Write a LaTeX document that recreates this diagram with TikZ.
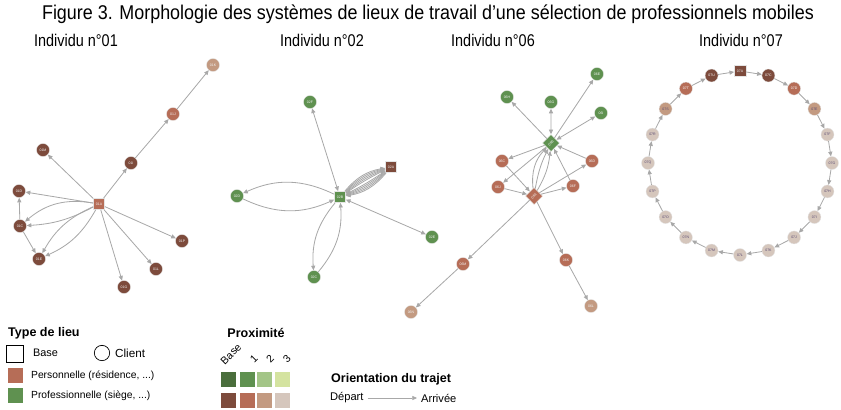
\documentclass[tikz,border=0pt]{standalone}
\usepackage{fontspec}
\setmainfont{Liberation Sans}
\newfontfamily\narrowfont[FakeStretch=0.85]{Liberation Sans}
\newfontfamily\titlefont[FakeStretch=0.9]{Liberation Sans}
\usepackage{xcolor}
\usepackage{tikz}
\usetikzlibrary{positioning,arrows.meta}

\definecolor{baseG}{HTML}{4A6E3C}
\definecolor{proG1}{HTML}{5F9150}
\definecolor{proG2}{HTML}{A3C587}
\definecolor{proG3}{HTML}{D4E3A0}
\definecolor{baseB}{HTML}{7D4B3C}
\definecolor{proB1}{HTML}{B66D57}
\definecolor{proB2}{HTML}{C39A81}
\definecolor{proB3}{HTML}{D5C6BC}
\definecolor{trajetgris}{HTML}{A8A8A8}
\definecolor{labtxt}{HTML}{5B4B73}

\begin{document}
\begin{tikzpicture}[x=0.03cm,y=-0.03cm,
    lieu/.style={circle,minimum size=0.39cm,inner sep=0pt,draw=white!80!gray,line width=0.3pt,
        font=\fontsize{3}{3}\selectfont,text=white!90!gray},
    base/.style={lieu,rectangle,minimum size=0.34cm},
    basediam/.style={lieu,rectangle,minimum size=0.36cm,rotate=45},
    trajet/.style={draw=trajetgris,line width=0.7pt,-{Triangle[length=4pt,width=3.5pt]}},
    allerretour/.style={trajet,{Triangle[length=4pt,width=3.5pt]}-{Triangle[length=4pt,width=3.5pt]}},
    titre/.style={font=\narrowfont\fontsize{14.5}{16}\selectfont},
    leg/.style={anchor=west,font=\fontsize{9}{10}\selectfont},
    legtitre/.style={anchor=west,font=\bfseries\fontsize{10.7}{12}\selectfont},
    case/.style={rectangle,minimum size=0.45cm,inner sep=0pt}]
    \useasboundingbox (0,0) rectangle (841,409);

    \node[font=\titlefont\fontsize{17}{19}\selectfont] (fig) at (428,14) {Figure 3. Morphologie des systèmes de lieux de travail d’une sélection de professionnels mobiles};
    \node[titre] (t01) at (76,40) {Individu n°01};
    \node[titre] (t02) at (322,40) {Individu n°02};
    \node[titre] (t06) at (493,40) {Individu n°06};
    \node[titre] (t07) at (741,40) {Individu n°07};

    % Individu 01
    \node[base,fill=proB1] (n01A) at (99,204) {01A};
    \node[lieu,fill=baseB] (n01M) at (43,150) {01M};
    \node[lieu,fill=baseB] (n01D) at (19,191) {01D};
    \node[lieu,fill=baseB] (n01C) at (20,226) {01C};
    \node[lieu,fill=baseB] (n01E) at (39,259) {01E};
    \node[lieu,fill=baseB] (n01G) at (124,287) {01G};
    \node[lieu,fill=baseB] (n01L) at (156,269) {01L};
    \node[lieu,fill=baseB] (n01P) at (182,241) {01P};
    \node[lieu,fill=baseB] (n01I) at (131,163) {01I};
    \node[lieu,fill=proB1] (n01J) at (173,114) {01J};
    \node[lieu,fill=proB2] (n01K) at (213,65) {01K};

    \draw[trajet] (n01A) -- (n01M);
    \draw[trajet] (n01A) -- (n01D);
    \draw[trajet] (n01C) -- (n01D);
    \draw[trajet] (n01A) to[bend right=25] (n01C);
    \draw[trajet] (n01A) to[bend left=12] (n01C);
    \draw[trajet] (n01A) to[bend right=18] (n01E);
    \draw[trajet] (n01A) to[bend left=18] (n01E);
    \draw[trajet] (n01C) -- (n01E);
    \draw[trajet] (n01A) -- (n01I);
    \draw[trajet] (n01I) -- (n01J);
    \draw[trajet] (n01J) -- (n01K);
    \draw[trajet] (n01A) -- (n01P);
    \draw[trajet] (n01A) -- (n01L);
    \draw[trajet] (n01A) -- (n01G);

    % Individu 02
    \node[base,fill=proG1] (n02B) at (340,197) {02B};
    \node[base,fill=baseB] (n02A) at (391,167) {02A};
    \node[lieu,fill=proG1] (n02F) at (310,102) {02F};
    \node[lieu,fill=proG1] (n02D) at (237,196) {02D};
    \node[lieu,fill=proG1] (n02E) at (432,237) {02E};
    \node[lieu,fill=proG1] (n02C) at (314,277) {02C};

    \draw[allerretour] (n02F) -- (n02B);
    \draw[allerretour] (n02B) -- (n02E);
    \draw[trajet] (n02B) to[bend right=25] (n02D);
    \draw[trajet] (n02D) to[bend right=25] (n02B);
    \draw[trajet] (n02B) to[bend right=22] (n02C);
    \draw[trajet] (n02C) to[bend right=22] (n02B);
    \foreach \b in {4,8,...,20} {
        \draw[trajet] (n02A) to[bend left=\b] (n02B);
        \draw[trajet] (n02B) to[bend left=\b] (n02A);
    }

    % Individu 06
    \node[basediam,fill=proG1] (n06B) at (551,143) {06B};
    \node[basediam,fill=proB1] (n06A) at (534,196) {06A};
    \node[lieu,fill=proG1] (n06H) at (507,97) {06H};
    \node[lieu,fill=proG1] (n06G) at (551,102) {06G};
    \node[lieu,fill=proG1] (n06E) at (597,74) {06E};
    \node[lieu,fill=proG1] (n06I) at (601,113) {06I};
    \node[lieu,fill=proB1] (n06C) at (502,161) {06C};
    \node[lieu,fill=proB1] (n06D) at (592,161) {06D};
    \node[lieu,fill=proB1] (n06J) at (498,187) {06J};
    \node[lieu,fill=proB1] (n06F) at (573,186) {06F};
    \node[lieu,fill=proB1] (n06M) at (463,264) {06M};
    \node[lieu,fill=proB2] (n06N) at (411,312) {06N};
    \node[lieu,fill=proB1] (n06K) at (566,260) {06K};
    \node[lieu,fill=proB2] (n06L) at (591,306) {06L};

    \draw[trajet] (n06B) -- (n06H);
    \draw[allerretour] (n06B) -- (n06G);
    \draw[trajet] (n06B) -- (n06E);
    \draw[allerretour] (n06B) -- (n06I);
    \draw[trajet] (n06B) -- (n06C);
    \draw[trajet] (n06D) -- (n06B);
    \draw[trajet] (n06C) -- (n06A);
    \draw[trajet] (n06B) -- (n06J);
    \draw[trajet] (n06J) -- (n06A);
    \draw[trajet] (n06A) -- (n06F);
    \draw[trajet] (n06A) -- (n06D);
    \draw[trajet] (n06F) -- (n06B);
    \draw[trajet] (n06A) to[bend left=25] (n06B);
    \draw[trajet] (n06A) to[bend left=8] (n06B);
    \draw[trajet] (n06A) to[bend right=12] (n06B);
    \draw[trajet] (n06A) -- (n06M);
    \draw[trajet] (n06M) -- (n06N);
    \draw[trajet] (n06A) -- (n06K);
    \draw[trajet] (n06K) -- (n06L);

    % Individu 07 : boucle
    \node[base,fill=baseB] (n07A) at (740,71) {07A};
    \foreach \l/\c/\t [count=\i] in {C/baseB/white,D/proB1/white,E/proB2/labtxt,F/proB3/labtxt,
        G/proB3/labtxt,H/proB3/labtxt,I/proB3/labtxt,J/proB3/labtxt,K/proB3/labtxt,L/proB3/labtxt,
        M/proB3/labtxt,N/proB3/labtxt,O/proB3/labtxt,P/proB3/labtxt,Q/proB3/labtxt,R/proB3/labtxt,
        S/proB2/labtxt,T/proB1/white,U/baseB/white}
        \node[lieu,fill=\c,text=\t] (n07\l) at ({740+92*cos(90-18*\i)},{163-92*sin(90-18*\i)}) {07\l};
    \foreach \a/\b in {A/C,C/D,D/E,E/F,F/G,G/H,H/I,I/J,J/K,K/L,L/M,M/N,N/O,O/P,P/Q,Q/R,R/S,S/T,T/U,U/A}
        \draw[trajet] (n07\a) -- (n07\b);

    % Legende
    \node[legtitre] (ltype) at (4,333) {Type de lieu};
    \node[draw,line width=0.6pt,minimum size=0.52cm,inner sep=0pt] (lcarre) at (15,354) {};
    \node[leg,font=\fontsize{9.3}{10}\selectfont] (lbase) at (29,353) {Base};
    \node[draw,circle,line width=0.6pt,minimum size=0.46cm,inner sep=0pt] (lrond) at (102,353) {};
    \node[leg,font=\fontsize{10}{11}\selectfont] (lclient) at (111,353) {Client};
    \node[case,fill=proB1] (lperso) at (15.5,375) {};
    \node[leg,font=\fontsize{8.8}{10}\selectfont] (tperso) at (27,376) {Personnelle (résidence, ...)};
    \node[case,fill=proG1] (lpro) at (15.5,395) {};
    \node[leg,font=\fontsize{8.8}{10}\selectfont] (tpro) at (27,396) {Professionnelle (siège, ...)};

    \node[legtitre,anchor=center] (lprox) at (256,333) {Proximité};
    \foreach \x/\g/\m/\n in {228.5/baseG/baseB/Base,247.5/proG1/proB1/1,264.5/proG2/proB2/2,282.5/proG3/proB3/3} {
        \node[case,fill=\g] (g\n) at (\x,379) {};
        \node[case,fill=\m] (m\n) at (\x,400) {};
    }
    \node[leg,anchor=base west,rotate=45] (rBase) at (222,368) {Base};
    \node[leg,anchor=center,rotate=45] (r1) at (254,359) {1};
    \node[leg,anchor=center,rotate=45] (r2) at (270,359) {2};
    \node[leg,anchor=center,rotate=45] (r3) at (287,359) {3};

    \node[legtitre] (lorient) at (327,379) {Orientation du trajet};
    \node[leg,font=\fontsize{9.5}{10}\selectfont] (ldepart) at (326,398) {Départ};
    \node[leg,font=\fontsize{9.5}{10}\selectfont] (larrivee) at (417,398) {Arrivée};
    \draw[trajet,line width=0.5pt] (ldepart) -- (larrivee);
\end{tikzpicture}
\end{document}
